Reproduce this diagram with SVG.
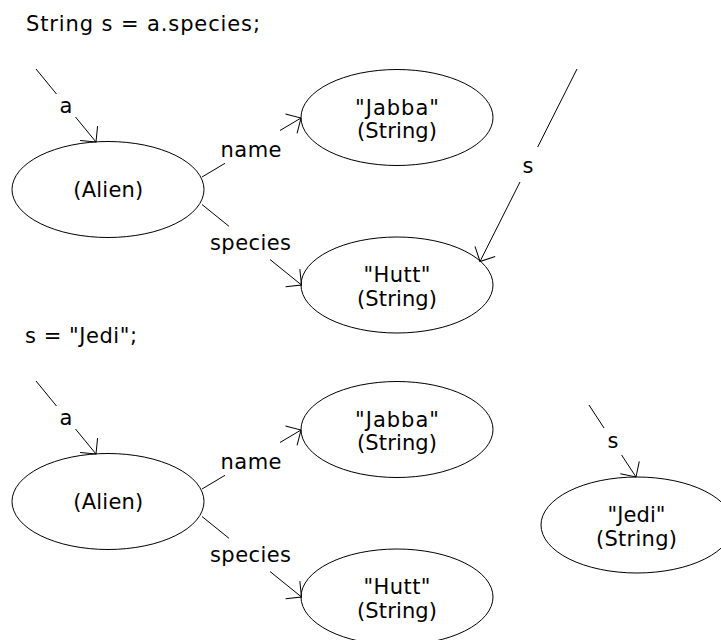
<svg xmlns="http://www.w3.org/2000/svg" width="721" height="640" viewBox="0 0 721 640">
  <style>
    text { font-family: "DejaVu Sans", "Liberation Sans", sans-serif; font-size: 21px; fill: #000; }
    .mid { text-anchor: middle; }
    ellipse { fill: #fff; stroke: #000; stroke-width: 1; }
    .edge line { stroke: #000; stroke-width: 1; }
  </style>
  <defs>
    <!-- open V arrowhead, 16px legs at 45 degrees -->
    <marker id="arrow" markerUnits="userSpaceOnUse" markerWidth="30" markerHeight="30" viewBox="-15 -15 30 30" refX="0" refY="0" orient="auto" overflow="visible">
      <path d="M -11.3 -11.3 L 0 0 L -11.3 11.3" fill="none" stroke="#000" stroke-width="1"/>
    </marker>
  </defs>
  <rect width="721" height="640" fill="#fff"/>

  <!-- Step 1: String s = a.species; -->
  <text id="stmt1" x="26" y="30.5" textLength="234">String s = a.species;</text>

  <g id="alien1">
    <ellipse cx="108" cy="189.5" rx="96" ry="48"/>
    <text class="mid" x="108.3" y="196.5" textLength="70">(Alien)</text>
  </g>
  <g id="jabba1">
    <ellipse cx="397" cy="117.5" rx="96" ry="48"/>
    <text class="mid" x="397" y="114.5" textLength="84">"Jabba"</text>
    <text class="mid" x="397" y="138" textLength="80">(String)</text>
  </g>
  <g id="hutt1">
    <ellipse cx="397" cy="285" rx="96" ry="48"/>
    <text class="mid" x="397" y="282" textLength="67">"Hutt"</text>
    <text class="mid" x="397" y="305.5" textLength="80">(String)</text>
  </g>

  <g id="edges1" class="edge">
    <!-- a -> Alien -->
    <line x1="36" y1="69" x2="56.5" y2="94"/>
    <line x1="75.5" y1="117" x2="96" y2="142" marker-end="url(#arrow)"/>
    <text class="mid" x="66" y="113">a</text>
    <!-- name -> "Jabba" -->
    <line x1="202" y1="177" x2="225" y2="163.3"/>
    <line x1="280" y1="130.5" x2="301" y2="118" marker-end="url(#arrow)"/>
    <text class="mid" x="251" y="157" textLength="61">name</text>
    <!-- species -> "Hutt" -->
    <line x1="202" y1="204.5" x2="229" y2="226.3"/>
    <line x1="270" y1="259.5" x2="301.5" y2="285" marker-end="url(#arrow)"/>
    <text class="mid" x="250.5" y="250" textLength="81">species</text>
    <!-- s -> "Hutt" -->
    <line x1="577" y1="69" x2="537.7" y2="147"/>
    <line x1="520" y1="182" x2="480" y2="261.5" marker-end="url(#arrow)"/>
    <text class="mid" x="528" y="173">s</text>
  </g>

  <!-- Step 2: s = "Jedi"; -->
  <text id="stmt2" x="25" y="342.5" textLength="112">s = "Jedi";</text>

  <g id="alien2">
    <ellipse cx="108" cy="501.5" rx="96" ry="48"/>
    <text class="mid" x="108.3" y="508.5" textLength="70">(Alien)</text>
  </g>
  <g id="jabba2">
    <ellipse cx="397" cy="429.5" rx="96" ry="48"/>
    <text class="mid" x="397" y="426.5" textLength="84">"Jabba"</text>
    <text class="mid" x="397" y="450" textLength="80">(String)</text>
  </g>
  <g id="hutt2">
    <ellipse cx="397" cy="597" rx="96" ry="48"/>
    <text class="mid" x="397" y="594" textLength="67">"Hutt"</text>
    <text class="mid" x="397" y="617.5" textLength="80">(String)</text>
  </g>
  <g id="jedi2">
    <ellipse cx="637" cy="525" rx="96" ry="48"/>
    <text class="mid" x="636.5" y="522" textLength="58">"Jedi"</text>
    <text class="mid" x="636.5" y="545.5" textLength="81">(String)</text>
  </g>

  <g id="edges2" class="edge">
    <!-- a -> Alien -->
    <line x1="36" y1="381" x2="56.5" y2="406"/>
    <line x1="75.5" y1="429" x2="96" y2="454" marker-end="url(#arrow)"/>
    <text class="mid" x="66" y="425">a</text>
    <!-- name -> "Jabba" -->
    <line x1="202" y1="489" x2="225" y2="475.3"/>
    <line x1="280" y1="442.5" x2="301" y2="430" marker-end="url(#arrow)"/>
    <text class="mid" x="251" y="469" textLength="61">name</text>
    <!-- species -> "Hutt" -->
    <line x1="202" y1="516.5" x2="229" y2="538.3"/>
    <line x1="270" y1="571.5" x2="301.5" y2="597" marker-end="url(#arrow)"/>
    <text class="mid" x="250.5" y="562" textLength="81">species</text>
    <!-- s -> "Jedi" -->
    <line x1="589" y1="405" x2="604" y2="428"/>
    <line x1="621.6" y1="455" x2="636" y2="477" marker-end="url(#arrow)"/>
    <text class="mid" x="613" y="448">s</text>
  </g>
</svg>
